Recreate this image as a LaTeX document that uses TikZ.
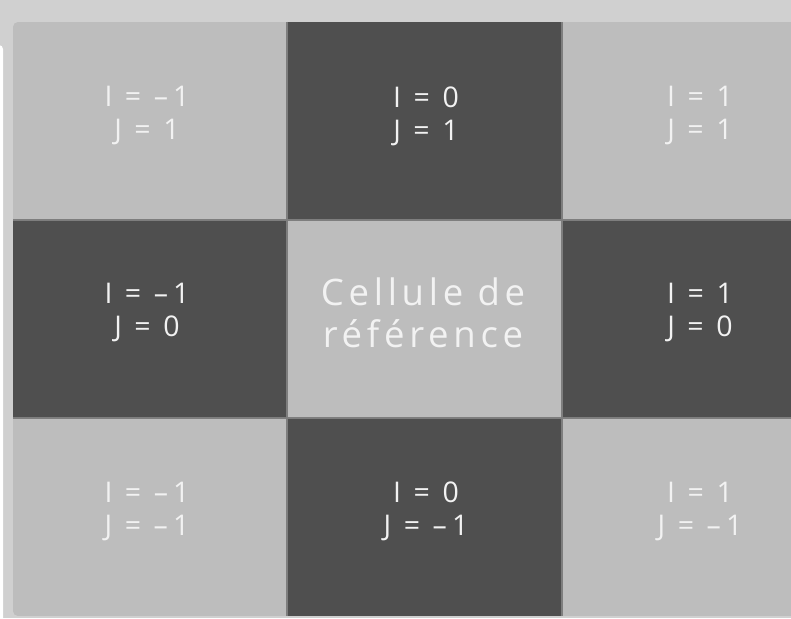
\documentclass[tikz,border=0pt]{standalone}
\usepackage{fontspec}
\setmainfont{Open Sans}
\newfontfamily\smallf{Open Sans}[LetterSpace=18]
\newfontfamily\bigf{Open Sans}[LetterSpace=13]
\begin{document}
\begin{tikzpicture}[x=1pt,y=-1pt,
  lightcell/.style={fill=cellL},
  darkcell/.style={fill=cellD},
  lbl/.style={text=txt,font=\smallf\fontsize{28.5}{33}\selectfont,align=center,inner sep=0pt},
  biglbl/.style={text=txt,font=\bigf\fontsize{36.5}{42}\selectfont,align=center,inner sep=0pt}]
\definecolor{bg}{HTML}{D0D0D0}
\definecolor{cellL}{HTML}{BDBDBD}
\definecolor{cellD}{HTML}{4F4F4F}
\definecolor{txt}{HTML}{F2F2F2}
\definecolor{sep}{HTML}{7E7E7E}
\useasboundingbox (0,0) rectangle (791,618);
\fill[bg] (0,0) rectangle (791,618);
\fill[white,rounded corners=4pt] (-10,45) rectangle (3,640);
\begin{scope}
\clip[rounded corners=5pt] (13,22) rectangle (840,616);
\fill[cellL] (13,22) rectangle (840,616);
\fill[darkcell] (287,22) rectangle (562,220);
\fill[darkcell] (13,220) rectangle (287,418);
\fill[darkcell] (562,220) rectangle (840,418);
\fill[darkcell] (287,418) rectangle (562,616);
\draw[sep,line width=1.2pt] (287,22) -- (287,616) (562,22) -- (562,616)
  (13,220) -- (840,220) (13,418) -- (840,418);
\end{scope}
\node[lbl] (c11) at (147,116) {I = –1\\J = 1};
\node[lbl] (c21) at (426,116) {I = 0\\J = 1};
\node[lbl] (c31) at (700,116) {I = 1\\J = 1};
\node[lbl] (c12) at (147,313) {I = –1\\J = 0};
\node[biglbl] (c22) at (423,313) {Cellule de\\référence};
\node[lbl] (c32) at (700,313) {I = 1\\J = 0};
\node[lbl] (c13) at (147,511) {I = –1\\J = –1};
\node[lbl] (c23) at (426,511) {I = 0\\J = –1};
\node[lbl] (c33) at (700,511) {I = 1\\J = –1};
\end{tikzpicture}
\end{document}
